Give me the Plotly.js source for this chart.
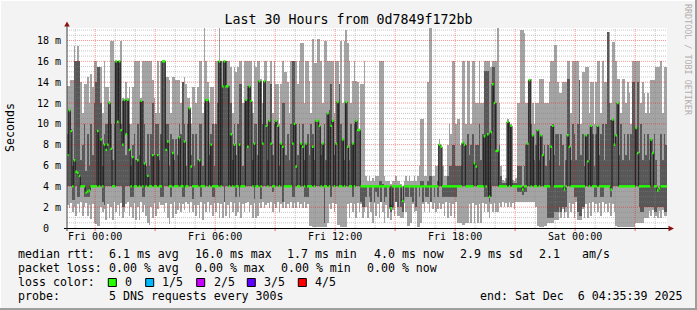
<!DOCTYPE html>
<html><head><meta charset="utf-8">
<script src="https://cdn.plot.ly/plotly-3.0.1.min.js"></script>
<style>html,body{margin:0;padding:0;background:#f3f3f3}#chart{width:697px;height:310px}</style>
</head><body><div id="chart"></div>
<script>
// ---- data (SmokePing, 5 pings per 300 s step, values in ms) ----
const startUTC = [2025, 11, 4, 22, 35, 39];   // Thu Dec 4 22:35:39
const stepSeconds = 300;
const pingMax = [
13.6,13.6,14.2,14.2,17.5,16, 17.5,16,14,11,13.8,13.8, 14.5,12,14.8,13.5,16,16, 14,15.5,15.5,11,16,13.5, 13.5,12.2,18,18,16,16, 16,16,18,12.5,12.3,14, 12.5,13.5,10,13.5,16,16, 16,16,12.5,16,16,16, 16,16,16,14.2,12.5,11, 16,11,16,16,16,14.5,
14.5,14.2,11,14.5,14.5,14.2, 14.2,14.2,12,13.8,14.5,13.8, 12.5,12.5,10,13.5,13.5,12, 13.5,16,16,11,19.2,16, 14,12,13.5,13.5,10,16, 16,19.2,16,16,16,16, 16,16,15.5,11,15.5,15, 15.5,16,16,12,16,16, 16,16,16,11,16,15.5, 16,16,14.3,12,16,16,
14.1,14.1,16,11,16,13.8, 13.8,10,13.8,16,15,15, 14,11,16,16,16,16, 13.8,16,17.8,17.8,12,16, 16,14.1,11,18.1,15.8,15.8, 18.1,18.1,16,12,18,18, 16,16,16,16,11,16, 16,13.8,18,12,18,19, 17.8,16,12,14.1,16,14.1, 14,9.4,13.8,13.8,16,5,
4.5,5,4.5,4.8,4.5,5, 5,16,16,16,5,4.5, 4.5,4.5,4.2,4.5,4.5,5, 4.5,4.5,4.2,2.8,4.5,5, 4.5,5,4.5,4.5,5,4.5, 5,6,10.5,10.5,5,5, 14,19.2,19.2,5,5,6, 6,8.5,8,6,5,5, 8,10,9,16,16,10, 10.5,10.5,8,16,16,10,
16,16,10,16,16,12, 12,16,12,12,16,16, 16,16,15.5,16,16,16, 19.2,12,6,4.6,4.5,4.8, 10.5,10.2,10,4.6,4.5,4.8, 12,12,19,19,18.7,12, 12,14.3,14.3,12,10,12, 12,14.3,14.3,14.3,12,12, 12,14,16,16,17.6,17.6, 14,13,13,14,14,14,
16,16,11,16,16,16, 16,14.2,10,15,15,15.5, 15.5,11,14,14,10,14, 16,16,11,16,14,14, 18.8,18.8,12,17.9,17.9,16, 14.3,14.3,11,14.3,14.3,12, 14,13,10,16,16,16, 16,16,12,14,13,11, 13,11,14.2,14.2,14.2,15.5, 15.5,15.5,16,11,15.5,15.5];
const pingUpper = [
9,11.3,9.5,6,16,16, 16,16,6.5,8,10,5.5, 9,6,10,7,12,14, 15.5,15.5,12,6,9,10, 10,12,10,6.5,10,16, 16,16,10,12.2,12.3,7, 12.3,10,6,8,9,6.5, 10,7,12.2,12.2,10,6, 9,6,9,12,7,10, 10,6.5,9,16,16,10,
10,6,9,8.5,6.5,8.5, 7,10,9,14,10,6, 10,11.5,7,9,6,9, 6.5,10,10,6,12,12.3, 12.3,7,9,10,6,10, 12,16,16,13.6,16,16, 13.6,13.6,12,6.5,10,7, 10,13.8,13.8,6,12,12.3, 13.6,13.6,12.2,6.5,10,10, 7,14.1,14.1,10,14.1,10,
6.5,10.3,13.8,7,10,10.3, 9.8,6,8.1,12,12,7, 9,6.5,10,16,16,10, 7,10,8.1,10,6.5,8.1, 9,7,10,9,6.5,10.3, 10.3,9.8,7,8.1,10,6.5, 11,11.3,13.8,10.3,7,8.1, 12.1,13.8,10,8.5,6.5,12.1, 7.8,6.5,10,8.1,10,10.3, 9.4,9.4,4,4,4,4,
4,4,4,4,4,4, 4,4.5,4.5,4.2,4,4, 4,4,2.2,4,4,4, 4,4,4,2.6,4,4, 4,4,4,4,4,4, 4,4,4.5,4.5,4,4, 4.5,5,5,4,4,4, 4.5,8,7.8,4,4,4, 5,6,6,8,8,6, 6,6,6,8.2,8,8,
9,7,8,9,6.2,8, 8,10,6.5,9,15.1,15.1, 15.1,9,9.2,15.5,15.5,12, 7.4,8,5,4.3,4.3,4.3, 10.2,10.2,9.8,4.3,4.3,4.3, 6,6,6,3.7,6,8, 8.1,14.2,10,8.9,6.5,8, 9.4,6.5,8.9,7,8,6, 8,6.5,9.8,10,7,9, 9,6,9,8,3.7,6.5,
14.3,14.3,6.5,10,9,6.5, 10,14.2,7,9,6,8.9, 9,6.5,9.8,9,6,9, 9.8,7,9,10,6.5,10, 18.8,12,10.4,10.4,8,8.9, 12,7,10,6.5,9,7, 9,6.5,9,14,14,9.6, 14,7.2,10,6.5,9,7, 9,6.5,8.5,7.2,9,6.5, 3.6,3.8,9,6.5,9,8];
const pingMedian = [
7,11.3,9.3,4,6.5,5.4, 5.3,5,4,4,4,3.4, 3.5,3.6,4,4,4,4, 9.3,4,8.5,4,8,7.5, 8,12,7.6,4,4,16, 10.2,16,9.4,8,12.3,9, 12.3,7.5,4,6.8,4,4, 6.5,4,12.2,4,6.2,4, 5,4,4,7,4,4, 7,4,4,16,16,7.5,
8.3,4,4,7.2,4,4, 4,8.7,4,4,8.3,4, 4,11.5,5.9,4,4,4, 4,6.5,4,4,4,12.3, 12.3,4,8,4,4,4, 4,16,4,13.6,16,13.6, 13.6,4,9,4,8,4, 4,8,4,4,4,12.3, 7.8,13.6,12.2,4,8.1,4, 4,14.1,4,8.1,14.1,9.8,
4,10.3,8.1,4,4,10.3, 9.8,4,8.1,7.8,4,4, 4,4,4,8.1,10,5.9, 4,4,8.1,7.8,4,8.1, 4,4,4,7.8,4,10.3, 10.3,9.8,4,8.1,4,4, 11,4,9.8,10.3,4,8.1, 12.1,4,4,8.5,4,12.1, 7.8,4,4,8.1,4,10.3, 9.4,9.4,4,4,4,4,
4,4,4,4,4,4, 4,4,4,4,4,4, 4,4,1.9,4,4,4, 4,4,4,2.6,4,4, 4,4,4,4,4,4, 4,4,4,4,4,4, 4,4,4,4,4,4, 4,8,7.8,4,4,4, 4,4,4,4,4,4, 4,4,4,8.2,8,4,
4,4,4,4,6.2,5.9, 4,4,4,4,8.8,4, 9,3,9.2,13.8,12,7.4, 7.4,4,4,4,4,4, 10.2,4,9.8,4,4,4, 4,4,4,3.7,4,4, 8.1,14.2,4,8.9,4,4, 9.4,4,8.9,7,4,4, 4,4,7.8,9.8,4,4, 4,4,4,4,3.7,4,
8.9,7.8,4,4,4,4, 4,4,4,4,4,8.9, 6.4,4,9.8,4,4,4, 9.8,4,4,4,4,4, 4,4,3.7,10.4,8,8.9, 12,4,4,4,4,4, 4,4,4,4,4,9.6, 7.2,4,4,4,4,4, 4,4,8.5,7.2,4,4, 3.6,3.8,4,4,4,4];
const pingLower = [
4,4,4,2.7,2.7,4, 3,3,4,4,3,3, 3,3,4,4,4,4, 4,4,4,2.5,2.2,4, 4,4,4,4,4,4, 4,4,4,2,2,4, 4,4,3,3,4,4, 4,4,4,3,3,4, 4,4,4,4,4,4, 4,4,3,3,4,4,
4,4,3,4,4,4, 4,4,4,3,3,4, 4,4,4,2.8,4,4, 4,4,3,4,4,4, 4,4,4,3,3,4, 4,4,4,4,2.5,4, 4,4,4,4,4,3, 4,3,4,4,4,4, 4,4,4,4,2.8,4, 4,4,2.8,4,4,4,
4,4,4,3.5,4,4, 4,4,4,2.5,4,4, 4,4,4,3,3,4, 4,4,4,4,3,3, 3,4,4,4,4,4, 4,4,4,4,0.5,4, 4,4,3,4,4,4, 4,4,4,4,4,4, 4,4,4,3,4,4, 4,4,2.5,2,2,3,
4,3,2.5,4,2.5,3.5, 3,4,2.5,4,2.5,3, 4,2,1.5,2,4,2.5, 2,4,2,1.5,4,3, 3,4,3,2.5,4,2, 4,3,4,2.5,4,3, 3,4,2.5,4,3,4, 3,4,4,3,3,3, 3,3,3,3,3,3, 4,4,4,4,4,4,
4,4,4,4,4,4, 4,4,4,4,3,3, 3,2.5,3,4,4,4, 4,4,4,4,4,4, 4,4,4,4,4,4, 3.5,3.5,3.5,3.2,3.5,3.5, 4,4,4,4,4,4, 4,4,4,4,4,4, 1,1,1,1,1.5,1.5, 1.5,2,1.5,2,1.5,2,
4,4,4,4,3,3, 1.5,1.2,1.2,2,2,4, 4,4,4,4,3,3, 4,4,3,3,4,4, 4,4,3,4,4,4, 4,4,4,4,4,4, 4,4,4,4,4,4, 4,2,1.5,1.5,2,2, 2,2,2,2,1.5,1.5, 2,2,2,2,1.5,1.5];
const pingMin = [
2.2,1.9,2.4,1.5,2.0,1.2, 2.3,1.5,2.5,1.2,2.0,2.4, 1.2,2.2,0.9,2.3,0.5,0.4, 0.2,0.2,2.0,1.5,1.8,0.8, 2.3,1.0,2.0,0.8,2.5,1.5, 2.2,1.2,2.4,1.0,1.5,2.3, 2.5,1.2,2.0,1.0,2.4,0.8, 2.0,0.8,2.5,1.5,2.2,1.2, 0.5,0.3,2.0,1.0,2.4,1.2, 1.8,2.5,2.2,2.2,1.5,2.4,
1.0,0.4,2.3,1.0,2.5,1.3, 1.7,2.4,1.5,2.3,1.7,2.5, 2.3,1.5,2.5,1.5,2.2,1.2, 2.2,1.0,2.5,0.8,2.3,1.5, 2.5,1.5,2.2,1.2,2.4,1.5, 2.4,1.0,2.3,1.0,2.5,1.2, 2.2,1.0,2.5,1.5,2.4,1.2, 1.5,2.5,1.0,2.3,1.5,2.4, 2.5,1.5,2.2,1.0,2.4,1.0, 1.2,2.4,1.9,2.5,1.9,2.2,
2.4,1.9,2.5,1.5,2.3,1.9, 2.5,1.5,2.3,1.9,2.5,1.9, 2.3,1.9,2.5,1.9,2.4,1.9, 2.5,1.9,2.3,1.9,2.5,1.9, 2.3,0.2,0.2,0.1,0.1,0.1, 0.1,0.1,0.1,0.1,0.1,0.1, 0.5,2.3,1.8,2.4,1.5,2.3, 0.3,0.3,0.1,0.1,0.1,0.1, 2.3,1.0,2.4,1.5,2.3,1.0, 2.4,1.5,2.3,1.0,1.5,2,
1.0,2.5,1.5,0.5,2.4,1.2, 2.3,1.0,2.5,1.5,0.5,2.2, 1.0,1.8,0.8,1.7,1.2,2.5, 1.2,1.2,1.0,1.0,2.4,1.5, 0.2,0.2,0.5,2.3,1.5,1.6, 0.1,0.1,0.5,2.3,1.5,2.5, 2.3,1.5,2.5,1.8,2.4,1.5, 1.8,2.4,1.8,2.3,1.2,2.5, 1.0,2.4,1.2,2.3,1.0,2.5, 0.5,0.5,0.5,0.3,0.3,0.5,
0.5,2.3,0.5,2.4,0.5,2.2, 0.5,2.3,0.5,2.4,1.5,2.3, 1.5,1.0,2.3,1.5,2.4,1.5, 1.5,2.4,2,2.5,2,2.4, 2,2.5,2,2.4,1.8,2.5, 2.5,2.5,2.5,2.5,2.5,2.5, 2.5,2.5,2.5,2.5,2.5,2.0, 0.2,0.1,0.1,0.1,0.2,0.2, 0.5,0.5,0.5,0.5,0.8,0.8, 0.8,1.5,1.0,1.8,1.0,1.5,
1.0,2.4,1.5,2.3,1.0,2.5, 0.8,0.8,0.8,1.8,1.0,2.3, 1.0,2.4,1.2,2.5,1.5,2.3, 1.5,2.4,1.2,2.5,1.5,2.3, 1.5,2.4,1.2,2.3,1.5,0.2, 0.1,0.1,0.1,0.1,0.1,0.1, 0.1,0.1,0.1,0.1,0.1,0.5, 0.5,0.5,0.5,0.5,1.0,1.0, 1,1.6,1.2,1.7,1.0,1.2, 1.0,1.6,1.0,1.7,1.2,1.2];

const xTickDates = [[2025,11,5,0],[2025,11,5,6],[2025,11,5,12],[2025,11,5,18],[2025,11,6,0]];
const xTickText = ['Fri 00:00','Fri 06:00','Fri 12:00','Fri 18:00','Sat 00:00'];
const yTickVals = [0,2,4,6,8,10,12,14,16,18];
const yTickText = ['0\u00a0\u00a0','2 m','4 m','6 m','8 m','10 m','12 m','14 m','16 m','18 m'];
const titleText = 'Last 30 Hours from 0d7849f172bb';
const yTitle = 'Seconds';
const rttLabels = ['median rtt:','6.1 ms avg','16.0 ms max','1.7 ms min','4.0 ms now','2.9 ms sd','2.1','am/s'];
const lossLabels = ['packet loss:','0.00 % avg','0.00 % max','0.00 % min','0.00 % now'];
const lossColorNames = ['0','1/5','2/5','3/5','4/5'];
const lossColors = ['#26ff00','#00b8ff','#c800ff','#5e00ff','#ff0000'];
const probeLabels = ['probe:','5 DNS requests every 300s','end: Sat Dec\u00a0\u00a06 04:35:39 2025'];

// ---- geometry (pixels of the 697x310 canvas) ----
const PL = 67, PR = 667, PT = 28, PB = 228;
const X = p => (p - PL) / (PR - PL);
const Y = p => (PB - p) / (PB - PT);
const MONO = 'DejaVu Sans Mono';
const YMAX = 19.2;

const STEP = stepSeconds * 1000;
const T0 = Date.UTC(...startUTC);
const N = pingMax.length;
const T1 = T0 + N * STEP;
const tC = pingMax.map((_, i) => T0 + (i + 0.5) * STEP);
const tE = pingMedian.map((_, i) => T0 + i * STEP).concat([T1]);
const medE = pingMedian.concat([pingMedian[N - 1]]);
// green median marks: one segment per run of equal median values
const segX = [], segY = [];
for (let i = 0; i < N; ) {
  let j = i;
  while (j + 1 < N && pingMedian[j + 1] === pingMedian[i]) j++;
  segX.push(T0 + i * STEP, T0 + (j + 1) * STEP, null);
  segY.push(pingMedian[i], pingMedian[i], null);
  i = j + 1;
}

// grid line paths (drawn over the smoke, under the median)
const gMinX = [], gMinY = [], gMajX = [], gMajY = [];
const H0 = Date.UTC(2025,11,4,23);
for (let k = 0; k < 30; k++) {
  const t = H0 + k * 3600000;
  const major = new Date(t).getUTCHours() % 3 === 0;
  (major ? gMajX : gMinX).push(t, t, null);
  (major ? gMajY : gMinY).push(0, YMAX, null);
}
for (let v = 0.5; v < YMAX; v += 0.5) {
  const major = Math.abs(v / 2 - Math.round(v / 2)) < 1e-6;
  (major ? gMajX : gMinX).push(T0, T1, null);
  (major ? gMajY : gMinY).push(v, v, null);
}
const gridTrace = (x, y, c) => ({type:'scatter', mode:'lines', x, y, connectgaps:false, hoverinfo:'skip',
  line:{color:c, width:1, dash:'1px,1px'}});

const traces = [
  {type:'bar', x:tC, base:pingMin, y:pingMax.map((v,i)=>v-pingMin[i]), width:STEP,
   marker:{color:'#a4a4a4', line:{width:0}}, hoverinfo:'skip'},
  {type:'bar', x:tC, base:pingLower, y:pingUpper.map((v,i)=>v-pingLower[i]), width:STEP,
   marker:{color:'#585858', line:{width:0}}, hoverinfo:'skip'},
  gridTrace(gMinX, gMinY, 'rgba(130,130,130,0.45)'),
  gridTrace(gMajX, gMajY, 'rgba(255,0,0,0.42)'),
  {type:'scatter', mode:'lines', x:tE, y:medE, line:{shape:'hv', color:'#1c1c1c', width:1}, hoverinfo:'skip'},
  {type:'scatter', mode:'lines', x:segX, y:segY, connectgaps:false, line:{color:lossColors[0], width:2.4}, hoverinfo:'skip'}
];

const shapes = [];
// red ticks under the x axis at the major grid
for (let k = 0; k < 30; k++) {
  const t = H0 + k * 3600000;
  if (new Date(t).getUTCHours() % 3 === 0)
    shapes.push({type:'line', xref:'x', yref:'paper', x0:t, x1:t, y0:Y(228), y1:Y(231), line:{color:'rgba(255,0,0,0.6)', width:1}});
}
// axes + arrows
shapes.push({type:'line', xref:'paper', yref:'paper', x0:X(64), x1:X(670), y0:Y(228.5), y1:Y(228.5), line:{color:'#000', width:1}});
shapes.push({type:'line', xref:'paper', yref:'paper', x0:X(67), x1:X(67), y0:Y(231), y1:Y(24), line:{color:'#404040', width:1}});
shapes.push({type:'path', xref:'paper', yref:'paper', fillcolor:'#8b1010', line:{width:0},
  path:`M${X(64.2)},${Y(26.5)} L${X(67)},${Y(21.5)} L${X(69.8)},${Y(26.5)} Z`});
shapes.push({type:'path', xref:'paper', yref:'paper', fillcolor:'#8b1010', line:{width:0},
  path:`M${X(668.5)},${Y(225.7)} L${X(674)},${Y(228.5)} L${X(668.5)},${Y(231.3)} Z`});
// frame
shapes.push({type:'line', xref:'paper', yref:'paper', x0:X(0), x1:X(697), y0:Y(0.5), y1:Y(0.5), line:{color:'#ffffff', width:1}});
shapes.push({type:'line', xref:'paper', yref:'paper', x0:X(0.5), x1:X(0.5), y0:Y(0), y1:Y(310), line:{color:'#ffffff', width:1}});
shapes.push({type:'line', xref:'paper', yref:'paper', x0:X(0), x1:X(697), y0:Y(309), y1:Y(309), line:{color:'#9e9e9e', width:2}});
shapes.push({type:'line', xref:'paper', yref:'paper', x0:X(696), x1:X(696), y0:Y(0), y1:Y(310), line:{color:'#9e9e9e', width:2}});
// loss colour boxes
const boxX = [108.3, 145.7, 196.7, 247.3, 298.3];
lossColors.forEach((c, i) => shapes.push({type:'rect', xref:'paper', yref:'paper',
  x0:X(boxX[i]), x1:X(boxX[i] + 8), y0:Y(278.5), y1:Y(286.5), fillcolor:c, line:{color:'#000', width:1}}));

const ann = [];
const txt = (s, px, py, opt = {}) => ann.push(Object.assign({text:s, xref:'paper', yref:'paper', x:X(px), y:Y(py),
  xanchor:'left', yanchor:'middle', showarrow:false, font:{family:MONO, size:11.6, color:'#000'}}, opt));
const rttX = [16, 106.7, 193.3, 285, 371.7, 458.3, 536.7, 580];
rttLabels.forEach((s, i) => txt(s, rttX[i], 254));
const lossX = [16, 106.7, 193.3, 279.3, 365];
lossLabels.forEach((s, i) => txt(s, lossX[i], 268.3));
txt('loss color:', 16, 282.3);
const lossLabX = [123, 160, 211.7, 261.7, 313.3];
lossColorNames.forEach((s, i) => txt(s, lossLabX[i], 282.3));
const probeX = [16, 106.7, 478.3];
probeLabels.forEach((s, i) => txt(s, probeX[i], 296.3));
txt(yTitle, 10, 128, {xanchor:'center', textangle:-90});
txt('RRDTOOL / TOBI OETIKER', 688, 60, {xanchor:'center', textangle:90, font:{family:MONO, size:8.4, color:'#b0b0b0'}});

const layout = {
  width:697, height:310, margin:{l:PL, r:697-PR, t:PT, b:310-PB, pad:0},
  paper_bgcolor:'#f3f3f3', plot_bgcolor:'#ffffff',
  barmode:'overlay', bargap:0, showlegend:false,
  title:{text:titleText, font:{family:MONO, size:13.3, color:'#000'}, x:0.5, xref:'container', xanchor:'center',
         y:1 - 19.5/310, yref:'container', yanchor:'middle'},
  xaxis:{type:'date', range:[T0, T1], tickvals:xTickDates.map(d => Date.UTC(...d)), ticktext:xTickText,
         showgrid:false, zeroline:false, showline:false, ticks:'', ticklabelstandoff:1,
         tickfont:{family:MONO, size:10, color:'#000'}, fixedrange:true},
  yaxis:{range:[0, YMAX], tickvals:yTickVals, ticktext:yTickText, showgrid:false, zeroline:false, showline:false,
         ticks:'', ticklabelstandoff:5, tickfont:{family:MONO, size:10, color:'#000'}, fixedrange:true},
  shapes:shapes, annotations:ann
};
Plotly.newPlot('chart', traces, layout, {staticPlot:true, displayModeBar:false});
</script></body></html>
